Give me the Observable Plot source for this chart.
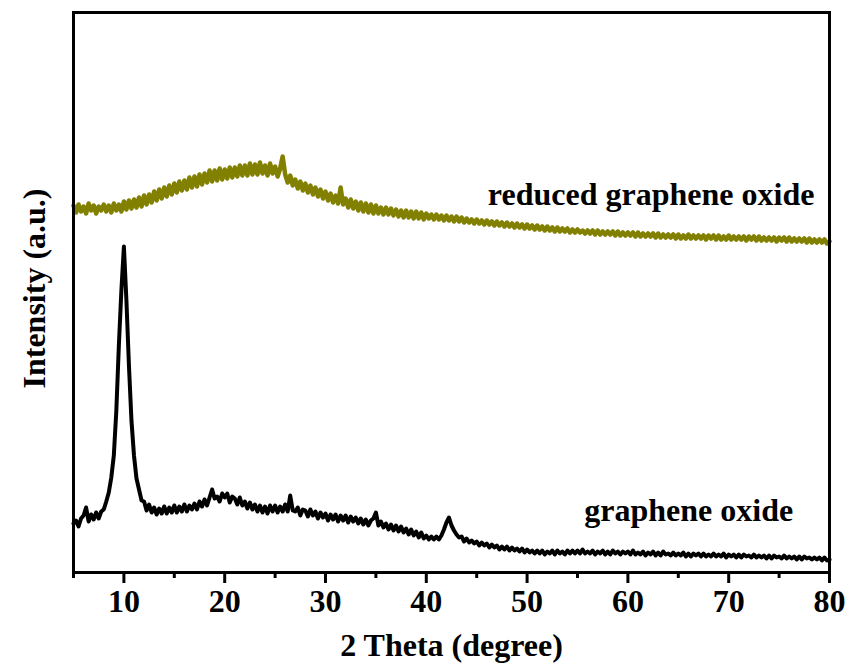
<!DOCTYPE html>
<html><head><meta charset="utf-8">
<script src="https://cdn.jsdelivr.net/npm/d3@7"></script>
<script src="https://cdn.jsdelivr.net/npm/@observablehq/plot@0.6"></script>
<style>body{margin:0;background:#fff;}</style>
</head><body><div id="chart"></div>
<script>
// 2θ sampling: from 5° to 80° every 0.25°
const thetaStart = 5;
const thetaStep = 0.25;

// Graphene oxide intensity (a.u.)
const goIntensity = [
49,52,46,54, 57,65,51,58, 53,60,54,61, 63,71,80,95,
117,162,227,282, 326,272,207,152, 117,94,83,72, 71,62,68,60,
65,58,64,59, 66,59,65,60, 67,60,66,61, 68,61,67,63,
69,63,71,66, 73,67,75,83, 74,76,71,79, 75,79,70,76,
74,68,75,67, 71,64,70,63, 68,61,67,60, 66,59,67,61,
67,60,66,61, 68,61,77,62, 61,65,57,63, 62,56,63,57,
61,54,60,55, 59,52,58,53, 58,51,57,52, 57,50,56,51,
55,49,54,48, 53,47,52,54, 60,47,51,45, 49,43,48,42,
47,41,46,40, 44,38,43,37, 41,35,40,34, 37,33,36,33,
36,33,37,43, 50,55,47,42, 38,35,36,31, 34,30,32,29,
31,27,30,27, 29,25,28,25, 27,23,26,23, 26,22,25,22,
24,21,24,20, 23,20,22,19, 22,19,22,18, 21,19,22,18,
22,19,21,18, 22,19,22,19, 22,19,23,19, 21,19,22,18,
21,19,22,18, 21,18,22,19, 21,18,21,19, 21,18,22,18,
20,18,21,17, 20,18,21,17, 20,17,21,18, 19,17,20,17,
19,17,20,16, 19,16,19,17, 19,16,19,16, 18,16,19,16,
18,16,19,15, 18,16,18,15, 18,15,18,16, 17,15,18,15,
17,15,17,14, 17,14,17,15, 16,14,17,14, 16,14,16,13,
16,13,16,14, 15,13,15,13, 15,12,15,12, 13
];

// Reduced graphene oxide intensity (a.u.)
const rgoIntensity = [
367,360,368,361, 366,359,369,362, 367,359,366,362, 368,361,367,360,
369,362,368,361, 371,363,372,364, 373,365,375,366, 377,368,378,370,
381,372,383,374, 385,376,387,378, 389,380,391,382, 392,383,395,385,
396,386,398,388, 399,390,402,391, 402,392,404,393, 403,394,405,395,
405,396,407,397, 407,397,409,398, 408,398,410,399, 407,397,409,399,
406,396,404,416, 398,390,397,387, 393,384,391,382, 389,380,387,378,
385,376,383,374, 381,372,379,370, 377,369,385,368, 374,365,373,364,
371,362,370,361, 369,360,368,359, 367,359,365,358, 365,358,364,357,
363,356,362,355, 362,355,361,354, 361,354,360,353, 359,354,358,353,
358,353,357,352, 357,352,356,351, 356,351,355,350, 354,350,353,349,
353,349,352,348, 352,348,351,347, 351,347,350,346, 350,346,349,345,
349,345,348,344, 348,344,347,343, 347,343,346,342, 346,342,345,341,
345,341,344,341, 344,340,343,340, 343,340,342,339, 342,339,342,338,
342,338,341,338, 341,338,341,337, 341,337,340,337, 340,337,340,336,
340,336,339,336, 339,336,339,335, 339,335,338,335, 338,335,338,334,
338,334,337,334, 338,334,337,334, 337,334,337,333, 337,334,337,333,
337,333,336,333, 337,333,336,333, 336,333,336,332, 336,333,336,332,
336,332,335,332, 335,332,335,331, 335,332,335,331, 335,331,334,331,
334,331,334,330, 334,330,333,330, 333,330,333,329, 331
];

const majorTicks = [10, 20, 30, 40, 50, 60, 70, 80];
const minorTicks = [5, 15, 25, 35, 45, 55, 65, 75];

const seriesNames = ["reduced graphene oxide", "graphene oxide"];
const seriesColors = ["#828000", "#000000"];
const labelTheta = [78.5, 76.4];
const labelIntensity = [368, 52];

const xLabel = "2 Theta (degree)";
const yLabel = "Intensity (a.u.)";

const toRows = (arr) => arr.map((v, i) => ({theta: thetaStart + i * thetaStep, intensity: v}));
const goRows = toRows(goIntensity);
const rgoRows = toRows(rgoIntensity);
const labelRows = seriesNames.map((name, i) => ({name, theta: labelTheta[i], intensity: labelIntensity[i]}));

const serif = "'Liberation Serif', 'Times New Roman', serif";

const chart = Plot.plot({
  width: 847,
  height: 668,
  marginLeft: 73,
  marginRight: 18,
  marginTop: 12,
  marginBottom: 96,
  style: {fontFamily: serif, fontWeight: "bold", background: "#fff", color: "#000"},
  x: {domain: [5, 80]},
  y: {domain: [0, 560], axis: null},
  marks: [
    Plot.line(rgoRows, {x: "theta", y: "intensity", stroke: seriesColors[0], strokeWidth: 4.5}),
    Plot.line(goRows, {x: "theta", y: "intensity", stroke: seriesColors[1], strokeWidth: 4}),
    Plot.text(labelRows, {x: "theta", y: "intensity", text: "name", textAnchor: "end", lineAnchor: "bottom",
      fontSize: 32, fontWeight: "bold", fill: "#000", fontFamily: serif}),
    Plot.axisX({ticks: majorTicks, tickSize: 11, tickPadding: 6, strokeWidth: 3, fontSize: 32, fontWeight: "bold", label: null}),
    Plot.axisX({ticks: minorTicks, tickSize: 6, strokeWidth: 3, tickFormat: () => "", label: null}),
    Plot.frame({stroke: "#000", strokeWidth: 3}),
    Plot.text([xLabel], {frameAnchor: "bottom", text: d => d, lineAnchor: "bottom", dy: 83,
      fontSize: 32, fontWeight: "bold", fill: "#000", fontFamily: serif}),
    Plot.text([yLabel], {frameAnchor: "left", text: d => d, rotate: -90, textAnchor: "middle", lineAnchor: "bottom", dx: -29, dy: -4,
      fontSize: 32, fontWeight: "bold", fill: "#000", fontFamily: serif})
  ]
});
document.getElementById("chart").appendChild(chart);
</script>
</body></html>
